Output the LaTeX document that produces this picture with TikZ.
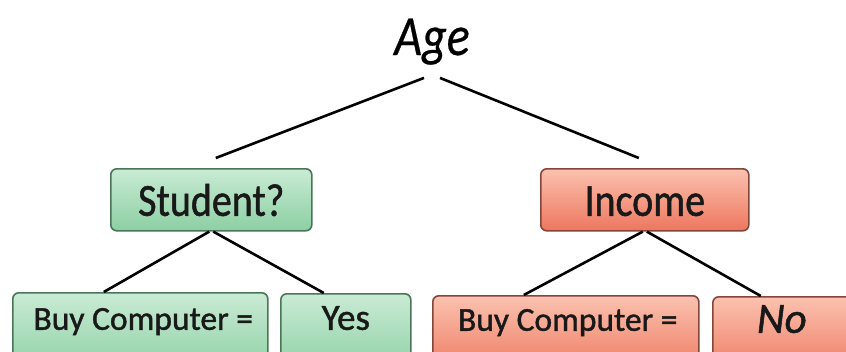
\documentclass[tikz,border=0pt]{standalone}
\usepackage{fontspec}
\setmainfont{Carlito}[FakeBold=1.2]
\newfontfamily\rootfont{Carlito}[FakeBold=0.5]
\usetikzlibrary{calc}

\definecolor{gtop}{HTML}{C9EBD4}
\definecolor{gbot}{HTML}{8CCFA3}
\definecolor{gline}{HTML}{4A7559}
\definecolor{rtop}{HTML}{FAC2AF}
\definecolor{rbot}{HTML}{EE765E}
\definecolor{rline}{HTML}{84463A}

\tikzset{
  box/.style={draw, line width=1.6pt, rounded corners=6pt, inner xsep=0pt, inner ysep=0pt, anchor=north west, align=center, text=black!90},
  greenbox/.style={box, draw=gline, top color=gtop, bottom color=gbot},
  redbox/.style={box, draw=rline, top color=rtop, bottom color=rbot},
  edge/.style={line width=2.6pt, black}
}

\begin{document}
\begin{tikzpicture}[x=1pt, y=-1pt]
  \useasboundingbox (0,0) rectangle (846,351);
  \clip (0,0) rectangle (846,351);
  \fill[white] (0,0) rectangle (846,351);

  % root
  \node[inner sep=0pt, anchor=base] (age) at (432,55)
    {\scalebox{1}[1.18]{\fontsize{48}{48}\rootfont\itshape Age}};

  % second level
  \node[greenbox, minimum width=201pt, text height=47pt, text depth=15pt] (student) at (110,168)
    {\scalebox{1}[1.15]{\fontsize{40}{40}\selectfont Student?}};
  \node[redbox, minimum width=208pt, text height=47pt, text depth=15pt] (income) at (540,168)
    {\scalebox{1}[1.15]{\fontsize{40}{40}\selectfont Income}};

  % leaves
  \node[greenbox, minimum width=255pt, text height=37pt, text depth=45pt] (gbuy) at (12,292)
    {\hspace*{6pt}\fontsize{33.5}{34}\selectfont Buy Computer =};
  \node[greenbox, minimum width=130pt, text height=36pt, text depth=45pt] (yes) at (280,293)
    {\fontsize{37}{37}\selectfont Yes};
  \node[redbox, minimum width=266pt, text height=35pt, text depth=45pt] (rbuy) at (432,295)
    {\hspace*{4pt}\fontsize{33.5}{34}\selectfont Buy Computer =};
  \node[redbox, minimum width=150pt, text height=36pt, text depth=45pt] (no) at (712,296)
    {\hspace*{-12pt}\fontsize{43}{43}\selectfont\itshape No};

  % connectors
  \draw[edge] ([xshift=-8pt, yshift=-13pt]age.south) -- ([xshift=4.5pt, yshift=10pt]student.north);
  \draw[edge] ([xshift=8pt, yshift=-13pt]age.south) -- ([xshift=-6pt, yshift=10pt]income.north);
  \draw[edge] ([xshift=-2pt]student.south) -- ([xshift=-36.5pt]gbuy.north);
  \draw[edge] ([xshift=2pt]student.south) -- ([xshift=-22pt]yes.north);
  \draw[edge] ([xshift=-2pt]income.south) -- ([xshift=-42pt]rbuy.north);
  \draw[edge] ([xshift=2pt]income.south) -- ([xshift=-27pt]no.north);
\end{tikzpicture}
\end{document}
